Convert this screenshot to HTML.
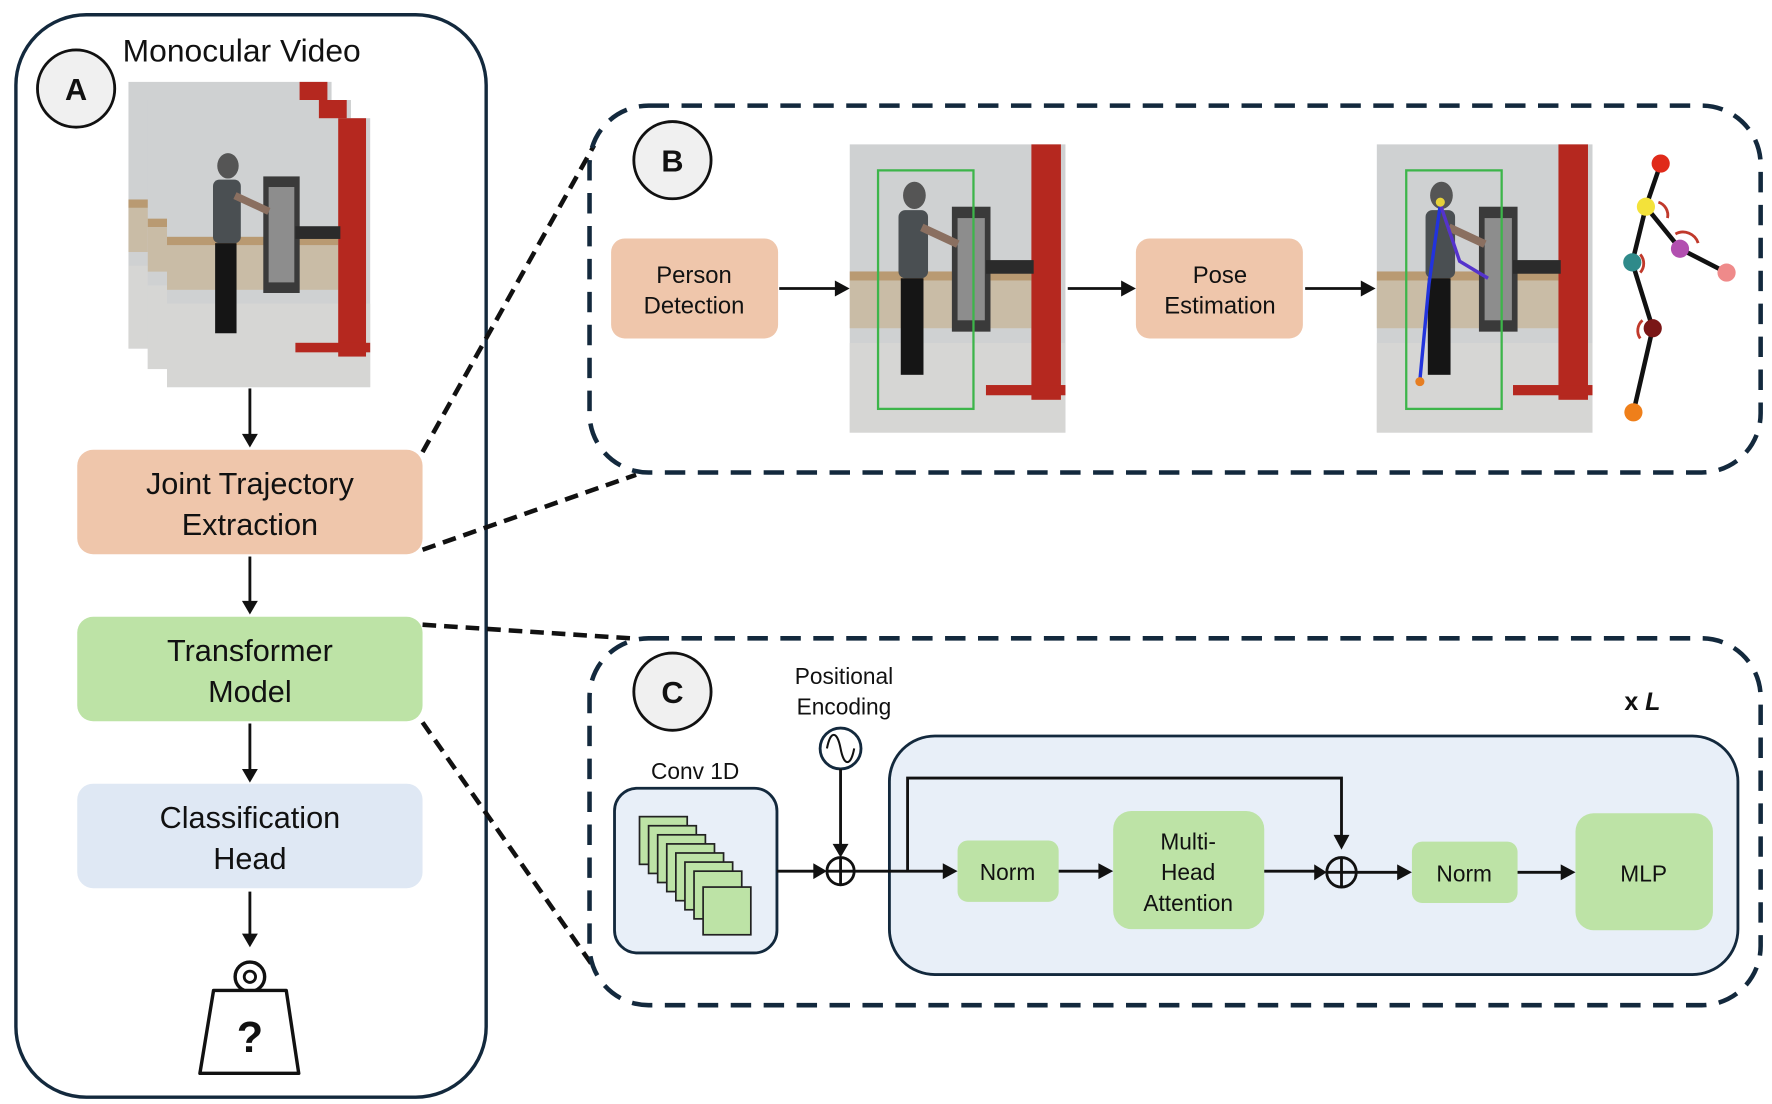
<!DOCTYPE html>
<html><head><meta charset="utf-8"><style>
html,body{margin:0;padding:0;background:#fff;}
svg{display:block;}
text{font-family:"Liberation Sans",sans-serif;fill:#111;}
</style></head><body>
<svg width="1772" height="1104" viewBox="0 0 1560 972" preserveAspectRatio="none" xmlns="http://www.w3.org/2000/svg">
<defs>
<symbol id="photo" viewBox="0 0 190 254" preserveAspectRatio="none">
<rect x="0" y="0" width="190" height="254" fill="#cfd1d2"/>
<rect x="0" y="175" width="190" height="79" fill="#d6d6d4"/>
<rect x="0" y="112" width="160" height="8" fill="#b99a72"/>
<rect x="0" y="120" width="160" height="42" fill="#c9bca6"/>
<rect x="90" y="55" width="34" height="110" fill="#3a3a3a"/>
<rect x="95" y="65" width="24" height="90" fill="#8d8d8d"/>
<rect x="160" y="0" width="26" height="225" fill="#b5281f"/>
<rect x="120" y="212" width="70" height="9" fill="#b5281f"/>
<rect x="120" y="102" width="42" height="12" fill="#2b2b2b"/>
<ellipse cx="57" cy="45" rx="10" ry="12" fill="#555"/>
<rect x="43" y="58" width="26" height="60" rx="6" fill="#4a4f52"/>
<rect x="45" y="118" width="20" height="85" fill="#151515"/>
<rect x="65" y="70" width="35" height="7" fill="#8a6f60" transform="rotate(25 65 70)"/>
</symbol>
</defs>

<rect x="14" y="13" width="414" height="953" rx="62" fill="#fff" stroke="#13293d" stroke-width="3"/>
<circle cx="67" cy="78" r="34" fill="#f0f0f0" stroke="#111" stroke-width="2.5"/>
<text x="67" y="88" font-size="27" font-weight="bold" text-anchor="middle">A</text>
<text x="108" y="54" font-size="28">Monocular Video</text>
<use href="#photo" x="113" y="72" width="179" height="235"/>
<use href="#photo" x="130" y="88" width="179" height="237"/>
<use href="#photo" x="147" y="104" width="179" height="237"/>

<g stroke="#111" stroke-width="2.5" fill="none">
<line x1="220" y1="342" x2="220" y2="383"/>
<line x1="220" y1="490" x2="220" y2="530"/>
<line x1="220" y1="637" x2="220" y2="678"/>
<line x1="220" y1="785" x2="220" y2="823"/>
</g>
<g fill="#111">
<polygon points="213,382 227,382 220,394"/>
<polygon points="213,529 227,529 220,541"/>
<polygon points="213,677 227,677 220,689"/>
<polygon points="213,822 227,822 220,834"/>
</g>

<rect x="68" y="396" width="304" height="92" rx="14" fill="#efc6ab"/>
<text x="220" y="435" font-size="27" text-anchor="middle">Joint Trajectory</text>
<text x="220" y="471" font-size="27" text-anchor="middle">Extraction</text>
<rect x="68" y="543" width="304" height="92" rx="14" fill="#bde3a6"/>
<text x="220" y="582" font-size="27" text-anchor="middle">Transformer</text>
<text x="220" y="618" font-size="27" text-anchor="middle">Model</text>
<rect x="68" y="690" width="304" height="92" rx="14" fill="#dfe8f4"/>
<text x="220" y="729" font-size="27" text-anchor="middle">Classification</text>
<text x="220" y="765" font-size="27" text-anchor="middle">Head</text>

<circle cx="220" cy="860" r="13" fill="none" stroke="#111" stroke-width="3"/>
<circle cx="220" cy="860" r="5" fill="none" stroke="#111" stroke-width="2.5"/>
<polygon points="188,872 252,872 263,945 176,945" fill="#fff" stroke="#111" stroke-width="3" stroke-linejoin="round"/>
<text x="220" y="926" font-size="38" font-weight="bold" text-anchor="middle">?</text>

<g stroke="#111" stroke-width="4" stroke-dasharray="12 7" fill="none">
<line x1="372" y1="398" x2="523" y2="128"/>
<line x1="372" y1="484" x2="560" y2="418"/>
<line x1="372" y1="550" x2="555" y2="562"/>
<line x1="372" y1="636" x2="523" y2="852"/>
</g>

<rect x="519" y="93" width="1031" height="323" rx="52" fill="none" stroke="#13293d" stroke-width="4" stroke-dasharray="18 11"/>
<circle cx="592" cy="141" r="34" fill="#f0f0f0" stroke="#111" stroke-width="2.5"/>
<text x="592" y="151" font-size="27" font-weight="bold" text-anchor="middle">B</text>
<rect x="538" y="210" width="147" height="88" rx="12" fill="#efc6ab"/>
<text x="611" y="249" font-size="21" text-anchor="middle">Person</text>
<text x="611" y="276" font-size="21" text-anchor="middle">Detection</text>
<rect x="1000" y="210" width="147" height="88" rx="12" fill="#efc6ab"/>
<text x="1074" y="249" font-size="21" text-anchor="middle">Pose</text>
<text x="1074" y="276" font-size="21" text-anchor="middle">Estimation</text>
<g stroke="#111" stroke-width="2.5">
<line x1="686" y1="254" x2="736" y2="254"/>
<line x1="940" y1="254" x2="988" y2="254"/>
<line x1="1149" y1="254" x2="1199" y2="254"/>
</g>
<g fill="#111">
<polygon points="735,247 735,261 748,254"/>
<polygon points="987,247 987,261 1000,254"/>
<polygon points="1198,247 1198,261 1211,254"/>
</g>
<use href="#photo" x="748" y="127" width="190" height="254"/>
<rect x="773" y="150" width="84" height="210" fill="none" stroke="#3db54a" stroke-width="2"/>
<use href="#photo" x="1212" y="127" width="190" height="254"/>
<rect x="1238" y="150" width="84" height="210" fill="none" stroke="#3db54a" stroke-width="2"/>
<polyline points="1268,180 1258,250 1250,335" fill="none" stroke="#2233dd" stroke-width="3"/>
<polyline points="1268,180 1285,230 1310,245" fill="none" stroke="#5533cc" stroke-width="3"/>
<circle cx="1268" cy="178" r="4" fill="#e6d13a"/>
<circle cx="1250" cy="336" r="4" fill="#e67e22"/>

<g stroke="#111" stroke-width="4" fill="none">
<polyline points="1462,144 1449,182 1437,231 1455,289 1438,363"/>
<polyline points="1449,182 1479,219 1520,240"/>
</g>
<g stroke="#c0392b" stroke-width="2.5" fill="none">
<path d="M1460,178 a12,12 0 0 1 8,14"/>
<path d="M1475,206 a14,14 0 0 1 20,8"/>
<path d="M1444,240 a12,12 0 0 0 0,-16"/>
<path d="M1446,282 a12,12 0 0 0 -2,16"/>
</g>
<circle cx="1462" cy="144" r="8" fill="#e02a1a"/>
<circle cx="1449" cy="182" r="8" fill="#f3e23a"/>
<circle cx="1437" cy="231" r="8" fill="#2f8a8a"/>
<circle cx="1479" cy="219" r="8" fill="#b24fb0"/>
<circle cx="1520" cy="240" r="8" fill="#ef8a8a"/>
<circle cx="1455" cy="289" r="8" fill="#7a1616"/>
<circle cx="1438" cy="363" r="8" fill="#ef7f1a"/>

<rect x="519" y="562" width="1031" height="323" rx="52" fill="none" stroke="#13293d" stroke-width="4" stroke-dasharray="18 11"/>
<circle cx="592" cy="609" r="34" fill="#f0f0f0" stroke="#111" stroke-width="2.5"/>
<text x="592" y="619" font-size="27" font-weight="bold" text-anchor="middle">C</text>
<text x="743" y="602" font-size="20" text-anchor="middle">Positional</text>
<text x="743" y="629" font-size="20" text-anchor="middle">Encoding</text>
<circle cx="740" cy="659" r="18" fill="#fff" stroke="#13293d" stroke-width="2.5"/>
<path d="M728,659 c3,-16 9,-16 12,0 c3,16 9,16 12,0" fill="none" stroke="#111" stroke-width="1.8"/>
<text x="612" y="686" font-size="20" text-anchor="middle">Conv 1D</text>
<rect x="541" y="694" width="143" height="145" rx="20" fill="#e8eff8" stroke="#13293d" stroke-width="2.5"/>
<g fill="#bde3a6" stroke="#222" stroke-width="1.5">
<rect x="563" y="719" width="42" height="42"/>
<rect x="571" y="727" width="42" height="42"/>
<rect x="579" y="735" width="42" height="42"/>
<rect x="587" y="743" width="42" height="42"/>
<rect x="595" y="751" width="42" height="42"/>
<rect x="603" y="759" width="42" height="42"/>
<rect x="611" y="767" width="42" height="42"/>
<rect x="619" y="781" width="42" height="42"/>
</g>
<rect x="783" y="648" width="747" height="210" rx="40" fill="#e8eff8" stroke="#13293d" stroke-width="2.5"/>
<text x="1430" y="625" font-size="22" font-weight="bold">x <tspan font-style="italic">L</tspan></text>
<rect x="843" y="740" width="89" height="54" rx="9" fill="#bde3a6"/>
<text x="887" y="775" font-size="20" text-anchor="middle">Norm</text>
<rect x="980" y="714" width="133" height="104" rx="16" fill="#bde3a6"/>
<text x="1046" y="748" font-size="20" text-anchor="middle">Multi-</text>
<text x="1046" y="775" font-size="20" text-anchor="middle">Head</text>
<text x="1046" y="802" font-size="20" text-anchor="middle">Attention</text>
<rect x="1243" y="741" width="93" height="54" rx="9" fill="#bde3a6"/>
<text x="1289" y="776" font-size="20" text-anchor="middle">Norm</text>
<rect x="1387" y="716" width="121" height="103" rx="16" fill="#bde3a6"/>
<text x="1447" y="776" font-size="20" text-anchor="middle">MLP</text>

<g stroke="#111" stroke-width="2.5" fill="none">
<line x1="740" y1="677" x2="740" y2="744"/>
<line x1="684" y1="767" x2="717" y2="767"/>
<line x1="752" y1="767" x2="831" y2="767"/>
<polyline points="799,767 799,685 1181,685 1181,736"/>
<line x1="932" y1="767" x2="968" y2="767"/>
<line x1="1113" y1="767" x2="1158" y2="767"/>
<line x1="1194" y1="768" x2="1231" y2="768"/>
<line x1="1336" y1="768" x2="1375" y2="768"/>
<circle cx="740" cy="767" r="12"/>
<line x1="728" y1="767" x2="752" y2="767"/><line x1="740" y1="755" x2="740" y2="779"/>
<circle cx="1181" cy="768" r="13"/>
<line x1="1168" y1="768" x2="1194" y2="768"/><line x1="1181" y1="755" x2="1181" y2="781"/>
</g>
<g fill="#111">
<polygon points="733,743 747,743 740,755"/>
<polygon points="716,760 716,774 728,767"/>
<polygon points="830,760 830,774 843,767"/>
<polygon points="1174,735 1188,735 1181,748"/>
<polygon points="967,760 967,774 980,767"/>
<polygon points="1157,761 1157,775 1168,768"/>
<polygon points="1230,761 1230,775 1243,768"/>
<polygon points="1374,761 1374,775 1387,768"/>
</g>
</svg>
</body></html>
